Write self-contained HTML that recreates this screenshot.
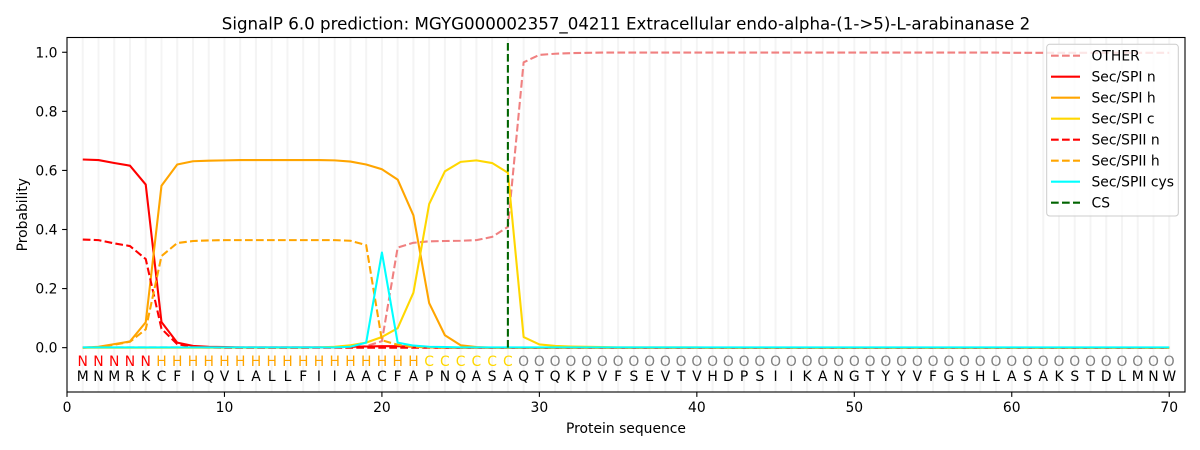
<!DOCTYPE html>
<html>
<head>
<meta charset="utf-8">
<style>
html,body{margin:0;padding:0;background:#fff;}
svg{display:block;font-family:"DejaVu Sans","Liberation Sans",sans-serif;}
</style>
</head>
<body>
<svg id="chart" width="1200" height="450" viewBox="0 0 1200 450" xmlns="http://www.w3.org/2000/svg">
<rect x="0" y="0" width="1200" height="450" fill="#fff"/>
<g id="grid"></g>
<g id="series" fill="none" stroke-width="2.08" stroke-linejoin="round"></g>
<rect x="67" y="37.5" width="1118" height="354.5" fill="none" stroke="#000" stroke-width="1.1"/>
<g id="ticks" stroke="#000" stroke-width="1.1"></g>

<!-- title -->
<text x="626" y="29.5" font-size="16.67" text-anchor="middle" fill="#000">SignalP 6.0 prediction: MGYG000002357_04211 Extracellular endo-alpha-(1-&gt;5)-L-arabinanase 2</text>

<!-- y tick labels -->
<g font-size="13.89" text-anchor="end" fill="#000">
<text x="57.5" y="352.7">0.0</text>
<text x="57.5" y="293.6">0.2</text>
<text x="57.5" y="234.5">0.4</text>
<text x="57.5" y="175.4">0.6</text>
<text x="57.5" y="116.4">0.8</text>
<text x="57.5" y="57.3">1.0</text>
</g>
<!-- x tick labels -->
<g font-size="13.89" text-anchor="middle" fill="#000">
<text x="67" y="412">0</text>
<text x="224.46" y="412">10</text>
<text x="381.92" y="412">20</text>
<text x="539.38" y="412">30</text>
<text x="696.84" y="412">40</text>
<text x="854.3" y="412">50</text>
<text x="1011.76" y="412">60</text>
<text x="1169.22" y="412">70</text>
</g>
<text x="626" y="433" font-size="13.89" text-anchor="middle" fill="#000">Protein sequence</text>
<text x="0" y="0" font-size="13.89" text-anchor="middle" fill="#000" transform="translate(27,214.7) rotate(-90)">Probability</text>

<!-- region labels -->
<g font-size="13.89" text-anchor="middle">
<text fill="#ff0000" y="366" x="82.75 98.49 114.24 129.98 145.73">NNNNN</text>
<text fill="#ffa500" y="366" x="161.48 177.22 192.97 208.71 224.46 240.21 255.95 271.70 287.44 303.19 318.94 334.68 350.43 366.17 381.92 397.67 413.41">HHHHHHHHHHHHHHHHH</text>
<text fill="#ffd700" y="366" x="429.16 444.90 460.65 476.40 492.14 507.89">CCCCCC</text>
<text fill="#808080" y="366" x="523.63 539.38 555.13 570.87 586.62 602.36 618.11 633.86 649.60 665.35 681.09 696.84 712.59 728.33 744.08 759.82 775.57 791.32 807.06 822.81 838.55 854.30 870.05 885.79 901.54 917.28 933.03 948.78 964.52 980.27 996.01 1011.76 1027.51 1043.25 1059.00 1074.74 1090.49 1106.24 1121.98 1137.73 1153.47 1169.22">OOOOOOOOOOOOOOOOOOOOOOOOOOOOOOOOOOOOOOOOOO</text>
<text fill="#000" y="381" x="82.75 98.49 114.24 129.98 145.73 161.48 177.22 192.97 208.71 224.46 240.21 255.95 271.70 287.44 303.19 318.94 334.68 350.43 366.17 381.92 397.67 413.41 429.16 444.90 460.65 476.40 492.14 507.89 523.63 539.38 555.13 570.87 586.62 602.36 618.11 633.86 649.60 665.35 681.09 696.84 712.59 728.33 744.08 759.82 775.57 791.32 807.06 822.81 838.55 854.30 870.05 885.79 901.54 917.28 933.03 948.78 964.52 980.27 996.01 1011.76 1027.51 1043.25 1059.00 1074.74 1090.49 1106.24 1121.98 1137.73 1153.47 1169.22">MNMRKCFIQVLALLFIIAACFAPNQASAQTQKPVFSEVTVHDPSIIKANGTYYVFGSHLASAKSTDLMNW</text>
</g>

<!-- legend -->
<g>
<rect x="1046.7" y="44.3" width="131.6" height="171.7" rx="3" ry="3" fill="#fff" fill-opacity="0.8" stroke="#cccccc" stroke-width="1"/>
<g stroke-width="2.08" fill="none">
<line x1="1051" y1="55.7" x2="1080" y2="55.7" stroke="#f08080" stroke-dasharray="7.7 3.3"/>
<line x1="1051" y1="76.7" x2="1080" y2="76.7" stroke="#ff0000"/>
<line x1="1051" y1="97.7" x2="1080" y2="97.7" stroke="#ffa500"/>
<line x1="1051" y1="118.7" x2="1080" y2="118.7" stroke="#ffd700"/>
<line x1="1051" y1="139.7" x2="1080" y2="139.7" stroke="#ff0000" stroke-dasharray="7.7 3.3"/>
<line x1="1051" y1="160.7" x2="1080" y2="160.7" stroke="#ffa500" stroke-dasharray="7.7 3.3"/>
<line x1="1051" y1="181.7" x2="1080" y2="181.7" stroke="#00ffff"/>
<line x1="1051" y1="202.7" x2="1080" y2="202.7" stroke="#006400" stroke-dasharray="7.7 3.3"/>
</g>
<g font-size="13.89" fill="#000">
<text x="1091.5" y="60.7">OTHER</text>
<text x="1091.5" y="81.7">Sec/SPI n</text>
<text x="1091.5" y="102.7">Sec/SPI h</text>
<text x="1091.5" y="123.7">Sec/SPI c</text>
<text x="1091.5" y="144.7">Sec/SPII n</text>
<text x="1091.5" y="165.7">Sec/SPII h</text>
<text x="1091.5" y="186.7">Sec/SPII cys</text>
<text x="1091.5" y="207.7">CS</text>
</g>
</g>
</svg>
<script>
(function(){
  var NS="http://www.w3.org/2000/svg";
  function X(n){return 67+15.746*n;}
  function Y(v){return 347.66-295.4*v;}
  var grid=document.getElementById('grid');
  for(var i=1;i<=70;i++){
    var l=document.createElementNS(NS,'line');
    l.setAttribute('x1',X(i));l.setAttribute('x2',X(i));
    l.setAttribute('y1',37.5);l.setAttribute('y2',392);
    l.setAttribute('stroke','#f4f4f4');l.setAttribute('stroke-width','2');
    grid.appendChild(l);
  }
  var ticks=document.getElementById('ticks');
  var yt=[0,0.2,0.4,0.6,0.8,1.0];
  yt.forEach(function(v){
    var l=document.createElementNS(NS,'line');
    l.setAttribute('x1',62.1);l.setAttribute('x2',67);
    l.setAttribute('y1',Y(v));l.setAttribute('y2',Y(v));
    ticks.appendChild(l);
  });
  for(var t=0;t<=70;t+=10){
    var l=document.createElementNS(NS,'line');
    l.setAttribute('x1',X(t));l.setAttribute('x2',X(t));
    l.setAttribute('y1',392);l.setAttribute('y2',396.9);
    ticks.appendChild(l);
  }
  function fill(arr,def){var a=[];for(var i=1;i<=70;i++){a.push(arr[i]!==undefined?arr[i]:def);}return a;}
  var other={};
  for(var i=1;i<=18;i++)other[i]=0.001;
  Object.assign(other,{19:0.005,20:0.022,21:0.339,22:0.355,23:0.360,24:0.361,25:0.362,26:0.364,27:0.375,28:0.409,29:0.966,30:0.991,31:0.995,32:0.997,33:0.998});
  for(var i=34;i<=70;i++)other[i]=(i<60?0.999:0.998);
  var spin={1:0.637,2:0.635,3:0.625,4:0.616,5:0.552,6:0.087,7:0.017,8:0.006,9:0.003,10:0.002,11:0.001,12:0.001,13:0.001,14:0.001,15:0.001,16:0.001,17:0.001,18:0.003,19:0.004,20:0.005,21:0.005,22:0.003,23:0.001};
  var spih={1:0.0,2:0.003,3:0.012,4:0.021,5:0.086,6:0.548,7:0.620,8:0.631,9:0.633,10:0.634,11:0.635,12:0.635,13:0.635,14:0.635,15:0.635,16:0.635,17:0.634,18:0.630,19:0.620,20:0.604,21:0.569,22:0.448,23:0.151,24:0.042,25:0.008,26:0.002};
  var spic={16:0.001,17:0.003,18:0.008,19:0.017,20:0.036,21:0.066,22:0.186,23:0.486,24:0.597,25:0.629,26:0.634,27:0.625,28:0.592,29:0.036,30:0.011,31:0.006,32:0.004,33:0.003,34:0.002,35:0.001,36:0.001,37:0.001,38:0.001,39:0.001,40:0.001};
  var spiin={1:0.366,2:0.364,3:0.353,4:0.344,5:0.300,6:0.064,7:0.012,8:0.003,9:0.001};
  var spiih={1:0.0,2:0.002,3:0.010,4:0.020,5:0.062,6:0.310,7:0.354,8:0.361,9:0.363,10:0.364,11:0.364,12:0.364,13:0.364,14:0.364,15:0.364,16:0.364,17:0.364,18:0.362,19:0.347,20:0.025,21:0.010,22:0.003,23:0.001};
  var cys={18:0.003,19:0.017,20:0.322,21:0.017,22:0.007,23:0.003,24:0.002};
  var series=[
    [fill(other,0),'#f08080',true],
    [fill(spin,0),'#ff0000',false],
    [fill(spih,0),'#ffa500',false],
    [fill(spic,0),'#ffd700',false],
    [fill(spiin,0),'#ff0000',true],
    [fill(spiih,0),'#ffa500',true],
    [fill(cys,0.001),'#00ffff',false]
  ];
  var g=document.getElementById('series');
  series.forEach(function(s){
    var pts=s[0].map(function(v,i){return X(i+1).toFixed(2)+','+Y(v).toFixed(2);}).join(' ');
    var p=document.createElementNS(NS,'polyline');
    p.setAttribute('points',pts);
    p.setAttribute('stroke',s[1]);
    if(s[2])p.setAttribute('stroke-dasharray','7.7 3.3');
    g.appendChild(p);
  });
  var cs=document.createElementNS(NS,'line');
  cs.setAttribute('x1',X(28));cs.setAttribute('x2',X(28));
  cs.setAttribute('y1',Y(0));cs.setAttribute('y2',41);
  cs.setAttribute('stroke','#006400');cs.setAttribute('stroke-dasharray','7.7 3.3');
  g.appendChild(cs);
})();
</script>
</body>
</html>
